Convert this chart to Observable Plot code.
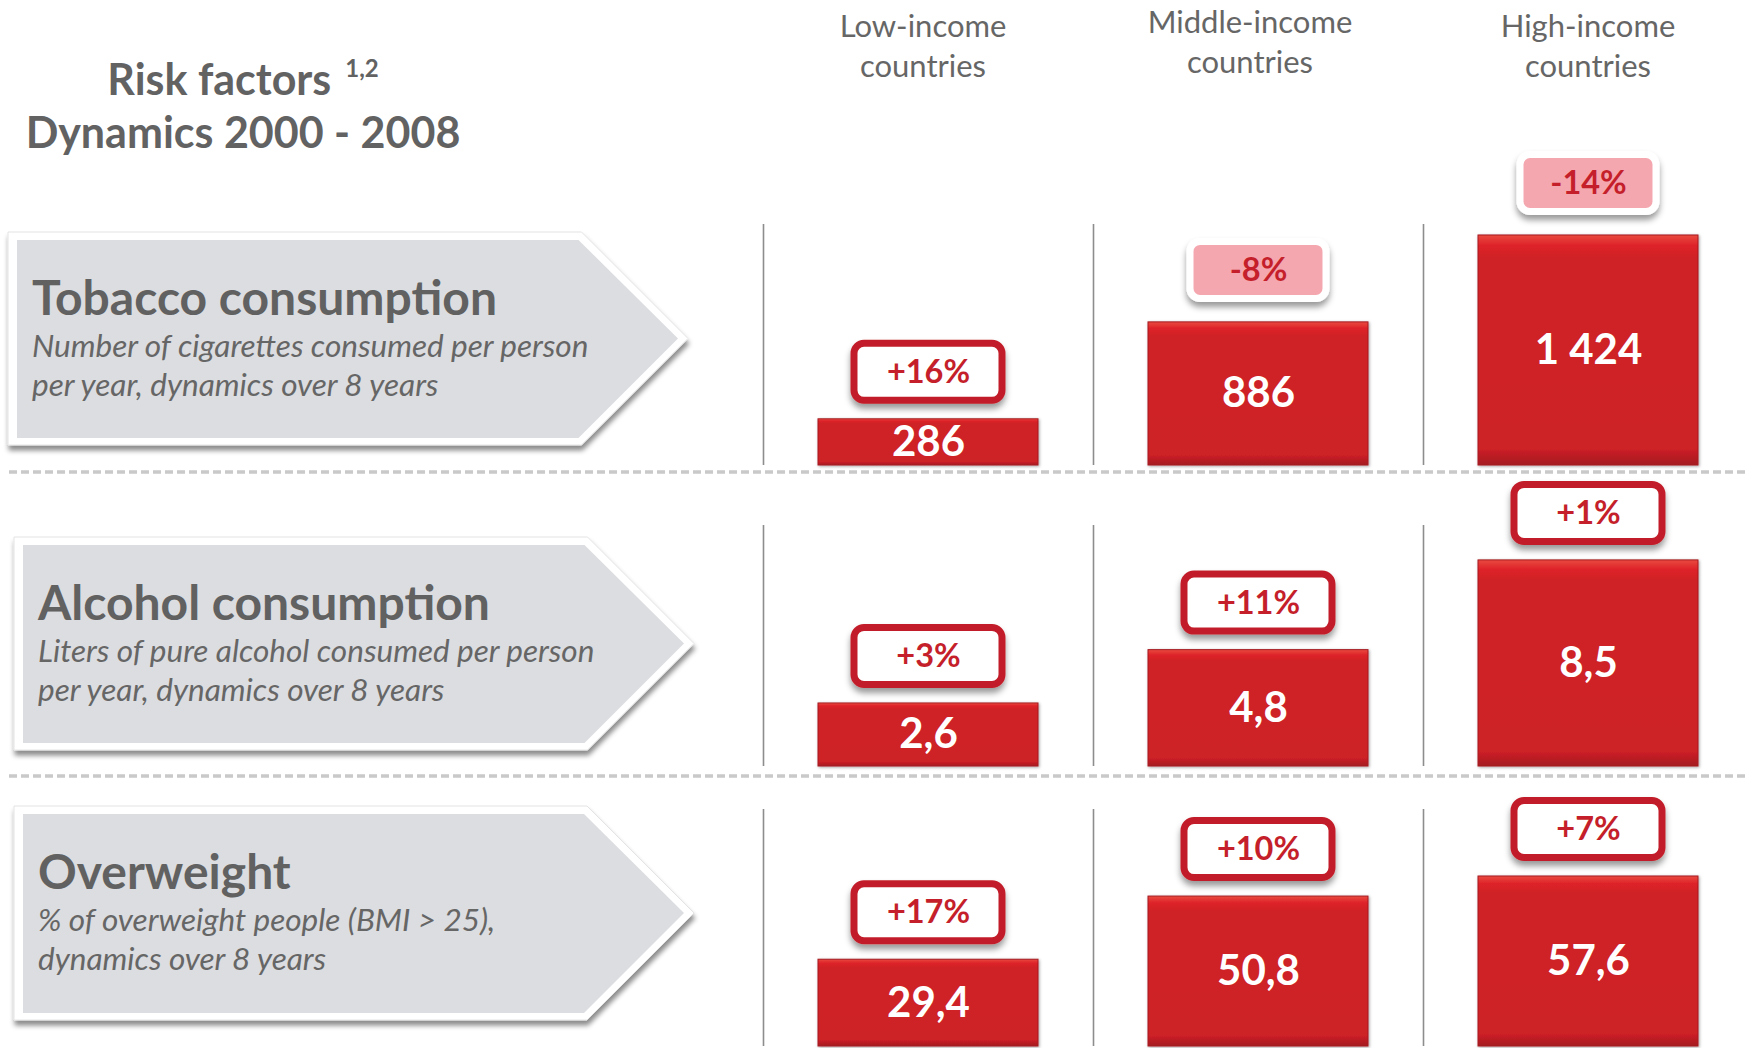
<!DOCTYPE html>
<html>
<head>
<meta charset="utf-8">
<script src="https://cdn.jsdelivr.net/npm/d3@7"></script>
<script src="https://cdn.jsdelivr.net/npm/@observablehq/plot@0.6"></script>
<style>
html, body { margin: 0; padding: 0; background: #fff; }
#page { position: relative; width: 1745px; height: 1048px; overflow: hidden; font-family: Lato, "Open Sans", sans-serif; color: #626262; }
.abs { position: absolute; white-space: nowrap; }
.title { font-weight: 700; font-size: 43px; line-height: 52px; text-align: center; }
.title sup { font-size: 24px; line-height: 0; vertical-align: 0; position: relative; top: -18px; margin-left: 14px; }
.header { font-size: 31px; line-height: 40px; text-align: center; color: #666; }
.rname { font-weight: 700; font-size: 48px; line-height: 58px; color: #616161; }
.rdesc { font-style: italic; font-size: 31.5px; line-height: 39px; color: #666; }
</style>
</head>
<body>
<div id="page"></div>
<script>
// ---------------- data ----------------
const incomeGroups = ["Low-income countries", "Middle-income countries", "High-income countries"];
const riskFactors = ["Tobacco consumption", "Alcohol consumption", "Overweight"];
const riskDescriptions = [
  ["Number of cigarettes consumed per person", "per year, dynamics over 8 years"],
  ["Liters of pure alcohol consumed per person", "per year, dynamics over 8 years"],
  ["% of overweight people (BMI > 25),", "dynamics over 8 years"]
];
const tobaccoValues = [286, 886, 1424];
const tobaccoChange = [16, -8, -14];
const alcoholValues = [2.6, 4.8, 8.5];
const alcoholChange = [3, 11, 1];
const overweightValues = [29.4, 50.8, 57.6];
const overweightChange = [17, 10, 7];
const titleLine1 = "Risk factors";
const titleNote = "1,2";
const titleLine2 = "Dynamics 2000 - 2008";
const valueFormats = [",.0f", ".1f", ".1f"];

const seriesValues = [tobaccoValues, alcoholValues, overweightValues];
const seriesChange = [tobaccoChange, alcoholChange, overweightChange];

// ---------------- layout ----------------
const W = 1745, H = 1048;
const xRange = [763, 1753];
const step = (xRange[1] - xRange[0]) / incomeGroups.length;
const rows = [
  {plotTop: 110, sepTop: 224, baseline: 465, yMax: 1492, box: {x: 8, top: 232, bottom: 445, tip: 688}},
  {plotTop: 470, sepTop: 525, baseline: 766, yMax: 9.94, box: {x: 14, top: 537, bottom: 750, tip: 694}},
  {plotTop: 785, sepTop: 809, baseline: 1046, yMax: 80.3, box: {x: 14, top: 806, bottom: 1020, tip: 694}}
];
const dashYs = [472, 776];
const headerShift = [{dx: -5, top: 5}, {dx: -8, top: 1}, {dx: 0, top: 5}];
const red = "#c41f2a";

const locale = d3.formatLocale({decimal: ",", thousands: " ", grouping: [3], currency: ["", ""], minus: "-"});
const pctFormat = (v) => locale.format("+d")(v) + "%";

const page = document.getElementById("page");

// ---------------- background decorations ----------------
const bg = d3.select(page).append("svg")
  .attr("width", W).attr("height", H)
  .style("position", "absolute").style("left", 0).style("top", 0);
const defs = bg.append("defs");
const grad = defs.append("linearGradient").attr("id", "barGrad")
  .attr("x1", 0).attr("y1", 0).attr("x2", 0).attr("y2", 1);
[[0, "#ea4a40"], [0.045, "#de2329"], [0.1, "#cf2027"], [0.93, "#cd2028"], [1, "#a41a1f"]]
  .forEach(([o, c]) => grad.append("stop").attr("offset", o).attr("stop-color", c));
const f1 = defs.append("filter").attr("id", "boxShadow").attr("x", "-10%").attr("y", "-10%").attr("width", "125%").attr("height", "130%");
f1.append("feDropShadow").attr("dx", 1).attr("dy", 5).attr("stdDeviation", 2.5).attr("flood-color", "#000").attr("flood-opacity", 0.45);
const f2 = defs.append("filter").attr("id", "tagShadow").attr("x", "-20%").attr("y", "-30%").attr("width", "140%").attr("height", "180%");
f2.append("feDropShadow").attr("dx", 0).attr("dy", 5).attr("stdDeviation", 3).attr("flood-color", "#000").attr("flood-opacity", 0.4);
const f3 = defs.append("filter").attr("id", "barShadow").attr("x", "-10%").attr("y", "-10%").attr("width", "125%").attr("height", "125%");
f3.append("feDropShadow").attr("dx", 1).attr("dy", 1).attr("stdDeviation", 1.5).attr("flood-color", "#000").attr("flood-opacity", 0.35);

rows.forEach((r) => {
  const b = r.box, h = b.bottom - b.top, mid = (b.top + b.bottom) / 2, sh = b.tip - h / 2;
  bg.append("polygon")
    .attr("points", [[b.x, b.top], [sh, b.top], [b.tip, mid], [sh, b.bottom], [b.x, b.bottom]].join(" "))
    .attr("fill", "#fff").attr("stroke", "#e4e4e4").attr("stroke-width", 1).attr("stroke-linejoin", "round")
    .attr("filter", "url(#boxShadow)");
  bg.append("polygon")
    .attr("points", [[b.x + 9, b.top + 8], [sh - 3, b.top + 8], [b.tip - 10, mid], [sh - 3, b.bottom - 7], [b.x + 9, b.bottom - 7]].join(" "))
    .attr("fill", "#dcdde0");
});
dashYs.forEach((y) => {
  bg.append("line").attr("x1", 9).attr("x2", W).attr("y1", y).attr("y2", y)
    .attr("stroke", "#c9c9c9").attr("stroke-width", 3.5).attr("stroke-dasharray", "8 4");
});

// ---------------- title ----------------
const t1 = document.createElement("div");
t1.className = "abs title";
t1.style.left = "23px"; t1.style.top = "53px"; t1.style.width = "440px";
t1.innerHTML = `${titleLine1}<sup>${titleNote}</sup>`;
page.appendChild(t1);
const t2 = document.createElement("div");
t2.className = "abs title";
t2.style.left = "23px"; t2.style.top = "106px"; t2.style.width = "440px";
t2.textContent = titleLine2;
page.appendChild(t2);

// ---------------- row labels (arrow boxes) ----------------
rows.forEach((r, i) => {
  const b = r.box;
  const name = document.createElement("div");
  name.className = "abs rname";
  name.style.left = (b.x + 24) + "px";
  name.style.top = (b.top + 36) + "px";
  name.textContent = riskFactors[i];
  page.appendChild(name);
  const desc = document.createElement("div");
  desc.className = "abs rdesc";
  desc.style.left = (b.x + 24) + "px";
  desc.style.top = (b.top + 94) + "px";
  desc.innerHTML = riskDescriptions[i].join("<br>");
  page.appendChild(desc);
});

// ---------------- row charts ----------------
const tagShadow = function (index, scales, values, dimensions, context, next) {
  const g = next(index, scales, values, dimensions, context);
  if (g) g.setAttribute("filter", "url(#tagShadow)");
  return g;
};
const barShadow = function (index, scales, values, dimensions, context, next) {
  const g = next(index, scales, values, dimensions, context);
  if (g) g.setAttribute("filter", "url(#barShadow)");
  return g;
};

let firstPlot = null;
rows.forEach((r, i) => {
  const data = incomeGroups.map((g, j) => ({group: g, value: seriesValues[i][j], change: seriesChange[i][j]}));
  const fmt = locale.format(valueFormats[i]);
  const marginBottom = 2;
  const height = r.baseline - r.plotTop + marginBottom;
  const plot = Plot.plot({
    width: W,
    height,
    marginTop: r.sepTop - r.plotTop,
    marginBottom,
    marginLeft: 0,
    marginRight: 0,
    x: {type: "band", domain: incomeGroups, range: xRange, paddingInner: 1 / 3, paddingOuter: 1 / 6, align: 0.5, axis: null},
    y: {domain: [0, r.yMax], axis: null},
    style: {fontFamily: "Lato, 'Open Sans', sans-serif", overflow: "visible", background: "transparent"},
    marks: [
      Plot.ruleX(incomeGroups, {x: (d) => d, dx: -step / 2, stroke: "#8d8d8d", strokeWidth: 1.6}),
      Plot.barY(data, {x: "group", y: "value", fill: "url(#barGrad)", stroke: "#a51c21", strokeWidth: 1, render: barShadow}),
      Plot.text(data, {x: "group", y: (d) => d.value / 2, text: (d) => fmt(d.value), fill: "white", fontSize: 42, fontWeight: 700}),
      Plot.barY(data.filter((d) => d.change >= 0), {
        x: "group", y1: "value", y2: "value",
        insetTop: -75.5, insetBottom: 18.5, insetLeft: 36, insetRight: 36, rx: 10,
        fill: "white", stroke: "#c21f29", strokeWidth: 7, render: tagShadow
      }),
      Plot.barY(data.filter((d) => d.change < 0), {
        x: "group", y1: "value", y2: "value",
        insetTop: -80.5, insetBottom: 23.5, insetLeft: 42, insetRight: 42, rx: 10,
        fill: "#f5a7b0", stroke: "white", strokeWidth: 7, render: tagShadow
      }),
      Plot.text(data.filter((d) => d.change >= 0), {x: "group", y: "value", dy: -47, text: (d) => pctFormat(d.change), fill: red, fontSize: 32.5, fontWeight: 700}),
      Plot.text(data.filter((d) => d.change < 0), {x: "group", y: "value", dy: -52, text: (d) => pctFormat(d.change), fill: red, fontSize: 32.5, fontWeight: 700})
    ]
  });
  const holder = document.createElement("div");
  holder.className = "abs";
  holder.style.left = "0px";
  holder.style.top = r.plotTop + "px";
  holder.appendChild(plot);
  page.appendChild(holder);
  if (!firstPlot) firstPlot = plot;
});

// ---------------- column headers (positioned from the x scale) ----------------
const sx = firstPlot.scale("x");
incomeGroups.forEach((g, j) => {
  const cx = sx.apply(g) + sx.bandwidth / 2 + headerShift[j].dx;
  const hd = document.createElement("div");
  hd.className = "abs header";
  hd.style.left = (cx - 150) + "px";
  hd.style.width = "300px";
  hd.style.top = headerShift[j].top + "px";
  hd.innerHTML = g.split(" ").join("<br>");
  page.appendChild(hd);
});
</script>
</body>
</html>
